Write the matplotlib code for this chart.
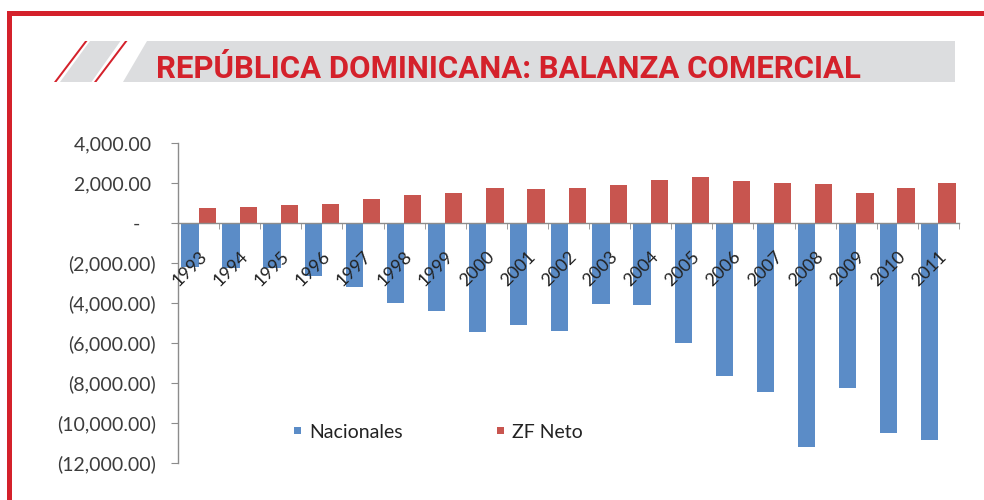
import matplotlib
matplotlib.use("Agg")
import matplotlib.pyplot as plt
import numpy as np
from matplotlib.patches import Polygon, Rectangle

years = [str(y) for y in range(1993, 2012)]
nacionales = [-2200, -2250, -2250, -2650, -3180, -3980, -4380, -5450, -5120, -5380,
              -4050, -4120, -5980, -7650, -8450, -11180, -8250, -10520, -10850]
zf_neto = [730, 800, 880, 950, 1200, 1420, 1480, 1730, 1680, 1730,
           1880, 2150, 2280, 2080, 2020, 1950, 1480, 1730, 2000]
series_names = ["Nacionales", "ZF Neto"]
y_ticks = [-12000, -10000, -8000, -6000, -4000, -2000, 0, 2000, 4000]
title = "REPÚBLICA DOMINICANA: BALANZA COMERCIAL"

BLUE = "#5b8cc7"
RED = "#c8554f"
FRAME_RED = "#d4212b"
BANNER_GRAY = "#dcdddf"
TEXT = "#3c3c3c"

W, H = 984, 500
plt.rcParams["font.family"] = ["Lato", "DejaVu Sans"]

fig = plt.figure(figsize=(W / 100, H / 100), dpi=100)


def fp(x, y):
    # pixel coords (from top-left) -> figure fraction
    return (x / W, 1 - y / H)


# red frame
fig.add_artist(Rectangle(fp(7, 500), 5 / W, 489 / H, transform=fig.transFigure,
                         color=FRAME_RED, lw=0))
fig.add_artist(Rectangle(fp(7, 16), 1, 5 / H, transform=fig.transFigure,
                         color=FRAME_RED, lw=0))

# title banner
fig.add_artist(Polygon([fp(60, 82), fp(91.5, 82), fp(120.5, 41), fp(90, 41)],
                       closed=True, transform=fig.transFigure, color=BANNER_GRAY, lw=0))
for x0 in (54, 94):
    fig.add_artist(Polygon([fp(x0, 82), fp(x0 + 2.5, 82), fp(x0 + 33.5, 41), fp(x0 + 31, 41)],
                           closed=True, transform=fig.transFigure, color=FRAME_RED, lw=0))
fig.add_artist(Polygon([fp(122.5, 82), fp(955, 82), fp(955, 40.5), fp(147, 40.5)],
                       closed=True, transform=fig.transFigure, color=BANNER_GRAY, lw=0))
ttl = fig.text(*fp(156, 78), title, color=FRAME_RED, fontsize=22, fontweight="bold",
               family=["Roboto", "DejaVu Sans"], ha="left", va="baseline")
# fit title to the banner width seen in the original (~703 px)
fig.canvas.draw()
tw = ttl.get_window_extent().width
ttl.set_fontsize(22 * 703 / tw)

# chart
ax = fig.add_axes([178 / W, 1 - 463 / H, (959 - 178) / W, (463 - 143) / H])
ax.set_axisbelow(False)
x = np.arange(len(years))
bw = 0.42
ax.bar(x - bw / 2, nacionales, bw, color=BLUE, lw=0, zorder=2)
ax.bar(x + bw / 2, zf_neto, bw, color=RED, lw=0, zorder=2)

ax.set_xlim(-0.5, len(years) - 0.5)
ax.set_ylim(-12000, 4000)

for s in ("top", "right"):
    ax.spines[s].set_visible(False)
ax.spines["bottom"].set_position(("data", 0))
for s in ("left", "bottom"):
    ax.spines[s].set_color("#8c8c8c")
    ax.spines[s].set_linewidth(1.0)
ax.spines["bottom"].set_zorder(3)


def fmt(v):
    if v == 0:
        return "-   "
    s = "{:,.2f}".format(abs(v))
    return "(" + s + ")" if v < 0 else s + " "


ax.set_yticks(y_ticks)
ax.set_yticklabels([fmt(v) for v in y_ticks])
ax.tick_params(axis="y", length=5, color="#8c8c8c", labelcolor=TEXT, labelsize=14, pad=11)

ax.set_xticks(x)
ax.set_xticklabels(years, rotation=45, ha="right", va="top", rotation_mode="anchor")
ax.set_xticks(np.arange(len(years) + 1) - 0.5, minor=True)
ax.tick_params(axis="x", which="major", length=0, labelcolor="#222222", labelsize=13, pad=18)
ax.tick_params(axis="x", which="minor", length=4, color="#8c8c8c")

# legend
for name, col, lx in zip(series_names, [BLUE, RED], [294, 497]):
    fig.add_artist(Rectangle(fp(lx, 434), 7 / W, 7 / H, transform=fig.transFigure,
                             color=col, lw=0))
    fig.text(*fp(lx + 15, 433), name, color="#222222", fontsize=14,
             ha="left", va="center")

fig.savefig("out.png", dpi=100)
